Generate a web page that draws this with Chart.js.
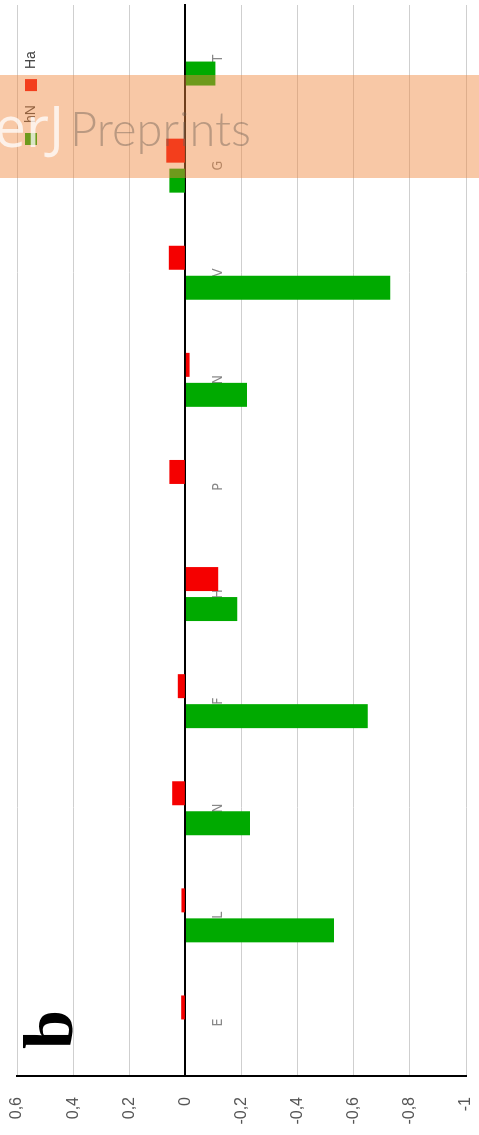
<!DOCTYPE html>
<html>
<head>
<meta charset="utf-8">
<script src="https://cdn.jsdelivr.net/npm/chart.js@4/dist/chart.umd.min.js"></script>
<style>
  html, body { margin: 0; padding: 0; background: #fff; }
  body { width: 479px; height: 1135px; overflow: hidden; position: relative; }
  #frame {
    position: absolute; left: 0; top: 0;
    width: 1135px; height: 479px;
    transform-origin: 0 0;
    transform: translate(0, 1135px) rotate(-90deg);
  }
  #band {
    position: absolute; left: 0; top: 75px; width: 479px; height: 103px;
    background: rgba(240, 135, 60, 0.46);
    overflow: hidden; white-space: nowrap;
  }
  #band .peer {
    position: absolute; right: 415px; top: 22px;
    font: 400 56px "Open Sans", "Liberation Sans", sans-serif;
    color: rgba(255, 255, 255, 0.75); line-height: 1;
  }
  #band .pre {
    position: absolute; left: 70px; top: 30px;
    font: 300 47px "Lato", "Liberation Sans", sans-serif;
    color: rgba(110, 95, 85, 0.45); line-height: 1;
  }
</style>
</head>
<body>
<div id="frame"><canvas id="c" width="1135" height="479"></canvas></div>
<div id="band"><span class="peer">PeerJ</span><span class="pre">Preprints</span></div>
<script>
// Residues along the sequence
const residues = ['E', 'L', 'N', 'F', 'H', 'P', 'N', 'V', 'G', 'T'];
// Series labels
const seriesNames = ['hN', 'Ha'];
// Chemical shift differences per residue
const hNValues = [0, -0.53, -0.23, -0.65, -0.185, 0, -0.22, -0.73, 0.057, -0.107];
const hAValues = [0.015, 0.014, 0.047, 0.027, -0.117, 0.057, -0.015, 0.059, 0.068, 0];
// Value axis ticks
const valueTicks = [-1, -0.8, -0.6, -0.4, -0.2, 0, 0.2, 0.4, 0.6];

const seriesColors = ['#00aa00', '#f50000'];

// Legend drawn inside the plot area, near its top-right corner
const innerLegend = {
  id: 'innerLegend',
  afterDraw(chart) {
    const { ctx, chartArea } = chart;
    let x = chartArea.right - 140;
    const y = chartArea.top + 8;
    ctx.save();
    ctx.font = '14px "Liberation Sans", Arial, sans-serif';
    ctx.textBaseline = 'middle';
    chart.data.datasets.forEach(ds => {
      ctx.fillStyle = ds.backgroundColor;
      ctx.fillRect(x, y, 12, 12);
      x += 12 + 10;
      ctx.fillStyle = '#444';
      ctx.fillText(ds.label, x, y + 6);
      x += ctx.measureText(ds.label).width + 14;
    });
    ctx.restore();
  }
};

// Panel letter
const panelLetter = {
  id: 'panelLetter',
  afterDraw(chart) {
    const { ctx, chartArea } = chart;
    ctx.save();
    ctx.font = 'bold 70px "Liberation Serif", "Times New Roman", serif';
    ctx.fillStyle = '#000';
    ctx.textBaseline = 'alphabetic';
    ctx.fillText('b', chartArea.left + 27, 72);
    ctx.restore();
  }
};

new Chart(document.getElementById('c'), {
  type: 'bar',
  data: {
    labels: residues,
    datasets: [
      { label: seriesNames[0], data: hNValues, backgroundColor: seriesColors[0], borderWidth: 0 },
      { label: seriesNames[1], data: hAValues, backgroundColor: seriesColors[1], borderWidth: 0 }
    ]
  },
  options: {
    responsive: false,
    animation: false,
    devicePixelRatio: 1,
    categoryPercentage: 0.56,
    barPercentage: 0.8,
    layout: { padding: { top: 17, bottom: 13, right: 5, left: 0 } },
    plugins: {
      legend: { display: false },
      tooltip: { enabled: false }
    },
    scales: {
      x: {
        position: { y: 0 },
        grid: { display: false },
        border: { display: true, color: '#000', width: 2 },
        ticks: {
          autoSkip: false, maxRotation: 0, minRotation: 0,
          padding: 17, color: '#888',
          font: { family: '"Liberation Sans Narrow", "DejaVu Sans Condensed", "Liberation Sans", sans-serif', size: 14 }
        }
      },
      y: {
        min: valueTicks[0],
        max: valueTicks[valueTicks.length - 1],
        afterBuildTicks: scale => { scale.ticks = valueTicks.map(v => ({ value: v })); },
        afterFit: scale => { scale.width = 59; scale.paddingTop = 0; scale.paddingBottom = 0; },
        grid: { color: '#cfcfcf', lineWidth: 1, drawTicks: false },
        border: { display: true, color: '#000', width: 2 },
        ticks: {
          padding: 21, color: '#555',
          font: { family: '"Liberation Sans", Arial, sans-serif', size: 16 },
          callback: v => String(Math.round(v * 10) / 10).replace('.', ',')
        }
      }
    }
  },
  plugins: [innerLegend, panelLetter]
});
</script>
</body>
</html>
